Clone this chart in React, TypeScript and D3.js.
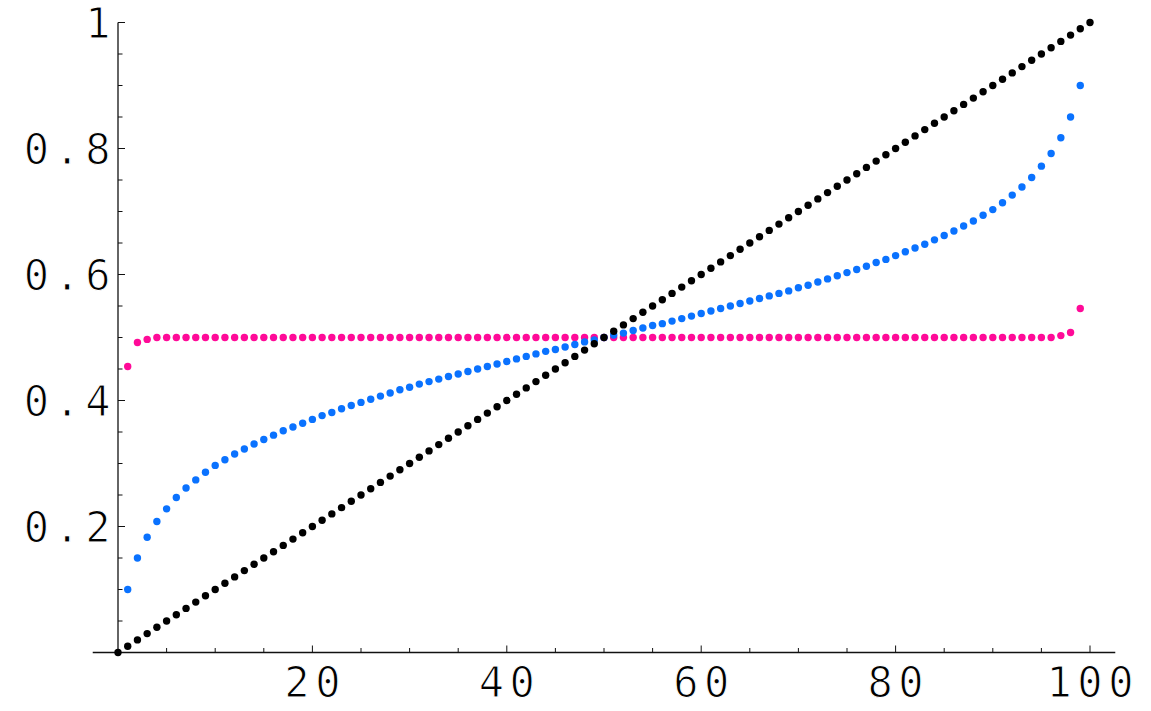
import * as d3 from 'd3';

// black series: x = 0..100
const blackX = [
  0, 1, 2, 3, 4, 5, 6, 7, 8, 9, 10, 11, 12, 13, 14, 15, 16, 17, 18, 19, 20,
  21, 22, 23, 24, 25, 26, 27, 28, 29, 30, 31, 32, 33, 34, 35, 36, 37, 38, 39, 40,
  41, 42, 43, 44, 45, 46, 47, 48, 49, 50, 51, 52, 53, 54, 55, 56, 57, 58, 59, 60,
  61, 62, 63, 64, 65, 66, 67, 68, 69, 70, 71, 72, 73, 74, 75, 76, 77, 78, 79, 80,
  81, 82, 83, 84, 85, 86, 87, 88, 89, 90, 91, 92, 93, 94, 95, 96, 97, 98, 99, 100,
];
const blackY = [
  0.0, 0.01, 0.02, 0.03, 0.04, 0.05, 0.06, 0.07, 0.08, 0.09, 0.1,
  0.11, 0.12, 0.13, 0.14, 0.15, 0.16, 0.17, 0.18, 0.19, 0.2,
  0.21, 0.22, 0.23, 0.24, 0.25, 0.26, 0.27, 0.28, 0.29, 0.3,
  0.31, 0.32, 0.33, 0.34, 0.35, 0.36, 0.37, 0.38, 0.39, 0.4,
  0.41, 0.42, 0.43, 0.44, 0.45, 0.46, 0.47, 0.48, 0.49, 0.5,
  0.51, 0.52, 0.53, 0.54, 0.55, 0.56, 0.57, 0.58, 0.59, 0.6,
  0.61, 0.62, 0.63, 0.64, 0.65, 0.66, 0.67, 0.68, 0.69, 0.7,
  0.71, 0.72, 0.73, 0.74, 0.75, 0.76, 0.77, 0.78, 0.79, 0.8,
  0.81, 0.82, 0.83, 0.84, 0.85, 0.86, 0.87, 0.88, 0.89, 0.9,
  0.91, 0.92, 0.93, 0.94, 0.95, 0.96, 0.97, 0.98, 0.99, 1.0,
];

// blue and magenta series: x = 1..99
const innerX = blackX.slice(1, 100);
const blueY = [
  0.100, 0.150, 0.183, 0.208, 0.228, 0.246, 0.261, 0.274, 0.286, 0.297,
  0.306, 0.315, 0.323, 0.331, 0.338, 0.345, 0.352, 0.358, 0.364, 0.370,
  0.376, 0.381, 0.387, 0.392, 0.397, 0.402, 0.407, 0.412, 0.417, 0.421,
  0.426, 0.430, 0.434, 0.438, 0.442, 0.446, 0.450, 0.454, 0.458, 0.462,
  0.466, 0.470, 0.474, 0.478, 0.481, 0.485, 0.489, 0.493, 0.496, 0.500,
  0.504, 0.507, 0.511, 0.515, 0.519, 0.522, 0.526, 0.530, 0.534, 0.538,
  0.542, 0.546, 0.550, 0.554, 0.558, 0.562, 0.566, 0.570, 0.574, 0.579,
  0.583, 0.588, 0.593, 0.598, 0.603, 0.608, 0.613, 0.619, 0.624, 0.630,
  0.636, 0.642, 0.648, 0.655, 0.662, 0.669, 0.677, 0.685, 0.694, 0.703,
  0.714, 0.726, 0.739, 0.754, 0.772, 0.792, 0.817, 0.850, 0.900,
];
const magentaY = [
  0.454, 0.492, 0.497, 0.5, 0.5, 0.5, 0.5, 0.5, 0.5, 0.5,
  0.5, 0.5, 0.5, 0.5, 0.5, 0.5, 0.5, 0.5, 0.5, 0.5,
  0.5, 0.5, 0.5, 0.5, 0.5, 0.5, 0.5, 0.5, 0.5, 0.5,
  0.5, 0.5, 0.5, 0.5, 0.5, 0.5, 0.5, 0.5, 0.5, 0.5,
  0.5, 0.5, 0.5, 0.5, 0.5, 0.5, 0.5, 0.5, 0.5, 0.5,
  0.5, 0.5, 0.5, 0.5, 0.5, 0.5, 0.5, 0.5, 0.5, 0.5,
  0.5, 0.5, 0.5, 0.5, 0.5, 0.5, 0.5, 0.5, 0.5, 0.5,
  0.5, 0.5, 0.5, 0.5, 0.5, 0.5, 0.5, 0.5, 0.5, 0.5,
  0.5, 0.5, 0.5, 0.5, 0.5, 0.5, 0.5, 0.5, 0.5, 0.5,
  0.5, 0.5, 0.5, 0.5, 0.5, 0.5, 0.503, 0.508, 0.546,
];

const xMajorTicks = [20, 40, 60, 80, 100];
const xTickLabels = ['20', '40', '60', '80', '100'];
const yMajorTicks = [0.2, 0.4, 0.6, 0.8, 1];
const yTickLabels = ['0.2', '0.4', '0.6', '0.8', '1'];
const xMinorTicks = [5, 10, 15, 25, 30, 35, 45, 50, 55, 65, 70, 75, 85, 90, 95];
const yMinorTicks = [0.05, 0.1, 0.15, 0.25, 0.3, 0.35, 0.45, 0.5, 0.55, 0.65, 0.7, 0.75, 0.85, 0.9, 0.95];

const series = [
  { name: 'magenta', xs: innerX, ys: magentaY, color: '#ff0a98' },
  { name: 'blue', xs: innerX, ys: blueY, color: '#0a72ff' },
  { name: 'black', xs: blackX, ys: blackY, color: '#000000' },
];

const App = () => {
  const width = 1151, height = 711;

  const getX = d3.scaleLinear().domain([0, 100]).range([118, 1090]);
  const getY = d3.scaleLinear().domain([0, 1]).range([652.5, 22.5]);

  const axisColor = '#111';
  // white stroke on top of the glyphs thins them a bit, the original labels are light
  const font = {
    fontFamily: '"DejaVu Sans Mono", monospace',
    fontSize: 42,
    letterSpacing: 5.5,
    stroke: '#fff',
    strokeWidth: 1.1,
    paintOrder: 'fill',
  };

  return (
    <svg width={width} height={height} style={{ position: 'absolute', left: 0, top: 0 }}>
      <rect width={width} height={height} fill="#fff" />

      {/* axes */}
      <line x1={getX(-2.6)} x2={getX(102.6)} y1={getY(0)} y2={getY(0)} stroke={axisColor} strokeWidth={1.3} />
      <line x1={getX(0)} x2={getX(0)} y1={getY(0)} y2={getY(1)} stroke={axisColor} strokeWidth={1.3} />

      {xMinorTicks.map((t) => (
        <line key={'xm' + t} x1={getX(t)} x2={getX(t)} y1={getY(0)} y2={getY(0) - 4.5} stroke={axisColor} strokeWidth={1} />
      ))}
      {xMajorTicks.map((t, i) => (
        <g key={'x' + t}>
          <line x1={getX(t)} x2={getX(t)} y1={getY(0)} y2={getY(0) - 7} stroke={axisColor} strokeWidth={1} />
          <text x={getX(t) + 2.75} y={697} textAnchor="middle" fill="#000" style={font}>{xTickLabels[i]}</text>
        </g>
      ))}

      {yMinorTicks.map((t) => (
        <line key={'ym' + t} x1={getX(0)} x2={getX(0) + 4.5} y1={getY(t)} y2={getY(t)} stroke={axisColor} strokeWidth={1} />
      ))}
      {yMajorTicks.map((t, i) => (
        <g key={'y' + t}>
          <line x1={getX(0)} x2={getX(0) + 7} y1={getY(t)} y2={getY(t)} stroke={axisColor} strokeWidth={1} />
          <text x={116} y={getY(t) + 15.5} textAnchor="end" fill="#000" style={font}>{yTickLabels[i]}</text>
        </g>
      ))}

      {/* points */}
      {series.map((s) => (
        <g key={s.name}>
          {s.ys.map((v, i) => (
            <circle key={i} cx={getX(s.xs[i])} cy={getY(v)} r={3.7} fill={s.color} />
          ))}
        </g>
      ))}
    </svg>
  );
};

export default App;
